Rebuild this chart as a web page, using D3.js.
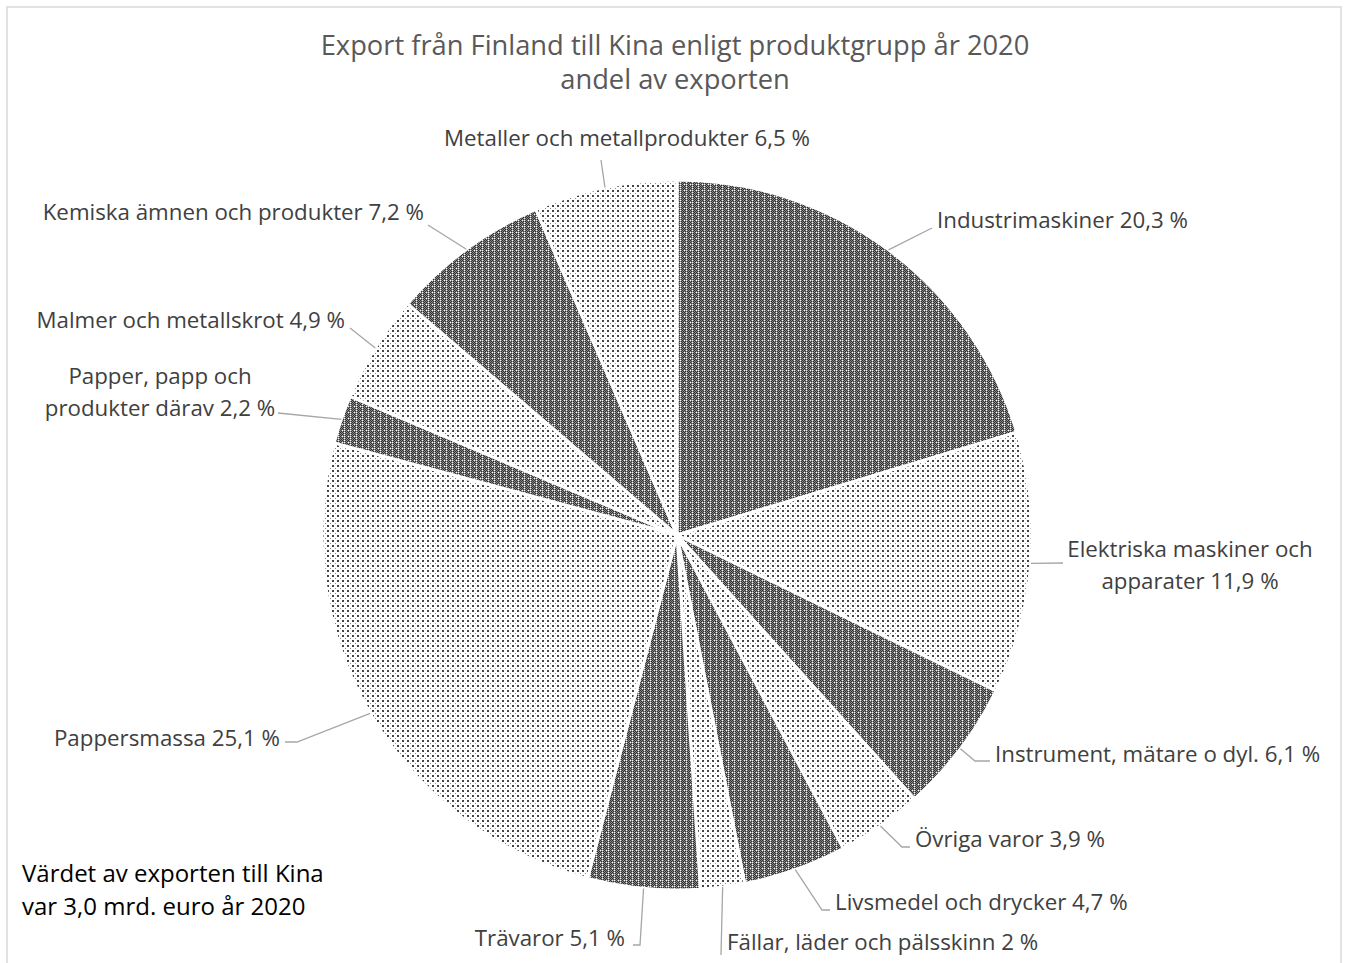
<!DOCTYPE html>
<html><head><meta charset="utf-8">
<script src="https://cdn.jsdelivr.net/npm/d3@7"></script>
<style>
body{margin:0;background:#fff;}
svg{display:block;}
text{font-family:"Open Sans","Noto Sans",sans-serif;}
</style></head>
<body>
<svg id="chart" width="1347" height="963"></svg>
<script>
// ---- data ----
const categories = ["Industrimaskiner","Elektriska maskiner och apparater","Instrument, mätare o dyl.","Övriga varor","Livsmedel och drycker","Fällar, läder och pälsskinn","Trävaror","Pappersmassa","Papper, papp och produkter därav","Malmer och metallskrot","Kemiska ämnen och produkter","Metaller och metallprodukter"];
const values = [20.3, 11.9, 6.1, 3.9, 4.7, 2, 5.1, 25.1, 2.2, 4.9, 7.2, 6.5];
const valueLabels = ["20,3 %","11,9 %","6,1 %","3,9 %","4,7 %","2 %","5,1 %","25,1 %","2,2 %","4,9 %","7,2 %","6,5 %"];
const titleLines = ["Export från Finland till Kina enligt produktgrupp år 2020","andel av exporten"];
const noteLines = ["Värdet av exporten till Kina","var 3,0 mrd. euro år 2020"];

// ---- layout (not data) ----
const labelLayout = [
  {lines:["Industrimaskiner 20,3 %"], anchor:"start", x:937, y:228, end:[932,228]},
  {lines:["Elektriska maskiner och","apparater 11,9 %"], anchor:"middle", x:1190, y:557, end:[1063,563]},
  {lines:["Instrument, mätare o dyl. 6,1 %"], anchor:"start", x:995, y:762, elbow:[975,761], end:[990,761]},
  {lines:["Övriga varor 3,9 %"], anchor:"start", x:915, y:847, elbow:[902,847], end:[910,847]},
  {lines:["Livsmedel och drycker 4,7 %"], anchor:"start", x:835, y:910, elbow:[822,910], end:[830,910]},
  {lines:["Fällar, läder och pälsskinn 2 %"], anchor:"start", x:727, y:950, end:[721,955]},
  {lines:["Trävaror 5,1 %"], anchor:"end", x:625, y:946, elbow:[640,945], end:[633,945]},
  {lines:["Pappersmassa 25,1 %"], anchor:"end", x:280, y:746, elbow:[297,742], end:[285,742]},
  {lines:["Papper, papp och","produkter därav 2,2 %"], anchor:"middle", x:160, y:384, end:[278,413]},
  {lines:["Malmer och metallskrot 4,9 %"], anchor:"end", x:345, y:328, end:[350,328]},
  {lines:["Kemiska ämnen och produkter 7,2 %"], anchor:"end", x:424, y:220, end:[428,225]},
  {lines:["Metaller och metallprodukter 6,5 %"], anchor:"middle", x:627, y:146, end:[601,160]}
];
const cx = 677, cy = 535, R = 355;

const svg = d3.select("#chart");
const defs = svg.append("defs");

// dark pattern
const pd = defs.append("pattern").attr("id","dark").attr("patternUnits","userSpaceOnUse").attr("width",6).attr("height",6);
pd.append("rect").attr("width",6).attr("height",6).attr("fill","#888888");
[[0,0],[2,0],[4,0],[1,1],[5,1],[0,2],[2,2],[4,2],[5,3],[0,4],[2,4],[4,4],[1,5],[5,5]].forEach(([x,y])=>
  pd.append("rect").attr("x",x).attr("y",y).attr("width",1).attr("height",1).attr("fill","#303030"));
[[3,3],[3,1],[1,3],[3,5]].forEach(([x,y])=>pd.append("rect").attr("x",x).attr("y",y).attr("width",1).attr("height",1).attr("fill","#f8f8f8"));

// light pattern
const pl = defs.append("pattern").attr("id","light").attr("patternUnits","userSpaceOnUse").attr("width",5).attr("height",5);
pl.append("rect").attr("width",5).attr("height",5).attr("fill","#ffffff");
pl.append("rect").attr("x",0).attr("y",0).attr("width",2).attr("height",2).attr("fill","#444");
pl.append("rect").attr("x",3).attr("y",3).attr("width",1).attr("height",1).attr("fill","#888");

// border
svg.append("rect").attr("x",7).attr("y",7).attr("width",1334).attr("height",980)
  .attr("fill","none").attr("stroke","#d9d9d9").attr("stroke-width",1.5);

// title
svg.append("g").selectAll("text").data(titleLines).join("text")
  .attr("x",675).attr("y",(d,i)=>55+i*34).attr("text-anchor","middle")
  .attr("font-size",27.3).attr("fill","#595959").text(d=>d);

// pie
const pie = d3.pie().sort(null).value(d=>d)(values);
const arc = d3.arc().innerRadius(0).outerRadius(R);
const g = svg.append("g").attr("transform",`translate(${cx},${cy})`);
g.selectAll("path").data(pie).join("path")
  .attr("d",arc)
  .attr("fill",(d,i)=> i%2===0 ? "url(#dark)" : "url(#light)")
  .attr("stroke","#ffffff").attr("stroke-width",3).attr("stroke-linejoin","round");

// leader lines
pie.forEach((d,i)=>{
  const a = (d.startAngle+d.endAngle)/2;
  const p0 = [cx + R*Math.sin(a), cy - R*Math.cos(a)];
  const L = labelLayout[i];
  const pts = [p0];
  if (L.elbow) pts.push(L.elbow);
  pts.push(L.end);
  svg.append("path").attr("d", d3.line()(pts)).attr("fill","none")
    .attr("stroke","#a6a6a6").attr("stroke-width",1.3);
});

// labels
labelLayout.forEach((L,i)=>{
  const t = svg.append("text").attr("text-anchor",L.anchor).attr("font-size",22.3).attr("fill","#404040");
  L.lines.forEach((ln,j)=>{
    t.append("tspan").attr("x",L.x).attr("y",L.y+j*32).text(ln);
  });
});

// note
svg.append("g").selectAll("text").data(noteLines).join("text")
  .attr("x",22).attr("y",(d,i)=>882+i*33).attr("font-size",24).attr("fill","#000").text(d=>d);
</script>
</body></html>
